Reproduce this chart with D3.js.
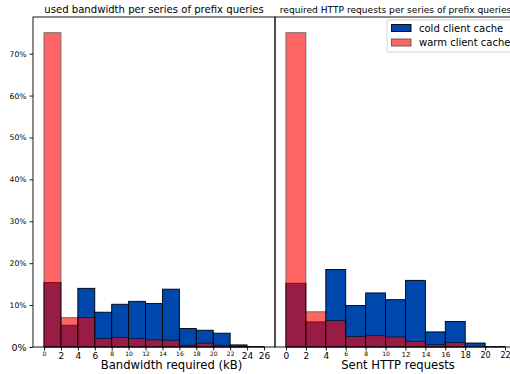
<!DOCTYPE html>
<html>
<head>
<meta charset="utf-8">
<script src="https://cdn.jsdelivr.net/npm/d3@7"></script>
<style>
  body { margin: 0; background: #fff; }
  text { font-family: "DejaVu Sans", sans-serif; fill: #000; }
</style>
</head>
<body>
<div id="viz"></div>
<script>
// bins are 2 wide, values are share of series (%)
var bwBins = [0, 2, 4, 6, 8, 10, 12, 14, 16, 18, 20, 22, 24];
var bwCold = [15.4, 5.2, 14.0, 8.3, 10.2, 10.9, 10.4, 13.8, 4.4, 4.0, 3.3, 0.5, 0.1];
var bwWarm = [75.0, 7.0, 7.0, 2.0, 2.3, 2.0, 1.7, 1.6, 0.4, 0.9, 0.4, 0.05, 0];

var reqBins = [0, 2, 4, 6, 8, 10, 12, 14, 16, 18, 20];
var reqCold = [15.2, 6.0, 18.5, 9.9, 12.9, 11.3, 15.9, 3.6, 6.1, 0.95, 0.1];
var reqWarm = [75.0, 8.4, 6.3, 2.5, 2.7, 2.4, 1.35, 0.6, 1.1, 0, 0];

var bwTicks = [0, 2, 4, 6, 8, 10, 12, 14, 16, 18, 20, 22, 24, 26];
var reqTicks = [0, 2, 4, 6, 8, 10, 12, 14, 16, 18, 20, 22];
var yTicks = [0, 10, 20, 30, 40, 50, 60, 70];

var W = 510, H = 374;
var plotTop = 17, plotBottom = 347;

var svg = d3.select('#viz').append('svg')
  .attr('width', W).attr('height', H);

var y = d3.scaleLinear().domain([0, 78.75]).range([plotBottom, plotTop]);

function panel(opt) {
  var x = d3.scaleLinear().domain(opt.xdom).range([opt.x0, opt.x1]);
  var g = svg.append('g');

  // cold first, warm on top with alpha
  g.selectAll('rect.cold').data(opt.cold).enter().append('rect')
    .attr('x', function(d, i){ return x(opt.bins[i]); })
    .attr('width', function(d, i){ return x(opt.bins[i] + 2) - x(opt.bins[i]); })
    .attr('y', function(d){ return y(d); })
    .attr('height', function(d){ return y(0) - y(d); })
    .attr('fill', '#0047ab')
    .attr('stroke', '#000')
    .attr('stroke-width', 0.9);

  g.selectAll('rect.warm').data(opt.warm).enter().append('rect')
    .attr('x', function(d, i){ return x(opt.bins[i]); })
    .attr('width', function(d, i){ return x(opt.bins[i] + 2) - x(opt.bins[i]); })
    .attr('y', function(d){ return y(d); })
    .attr('height', function(d){ return y(0) - y(d); })
    .attr('fill', '#ff0000')
    .attr('stroke', '#000')
    .attr('stroke-width', 0.9)
    .style('opacity', function(d){ return d > 0 ? 0.6 : 0; });

  // frame
  g.append('rect')
    .attr('x', opt.x0).attr('y', plotTop)
    .attr('width', opt.x1 - opt.x0).attr('height', plotBottom - plotTop)
    .attr('fill', 'none').attr('stroke', '#000').attr('stroke-width', 0.9);

  var xa = g.append('g').attr('transform', 'translate(0,' + plotBottom + ')')
    .call(d3.axisBottom(x).tickValues(opt.ticks).tickSize(3.5).tickFormat(d3.format('d')));
  xa.select('.domain').remove();
  xa.selectAll('line').attr('stroke', '#000').attr('stroke-width', 0.9);
  xa.selectAll('text')
    .attr('y', function(d, i){ return opt.tickDy[i]; })
    .attr('dy', '0.71em')
    .style('font-size', function(d, i){ return opt.tickSize[i] + 'px'; })
    .style('font-family', '"DejaVu Sans", sans-serif')
    .attr('fill', '#000');

  g.append('text')
    .attr('x', opt.labelX).attr('y', 368.5)
    .attr('text-anchor', 'middle')
    .style('font-size', '11.6px')
    .text(opt.label);

  g.append('text')
    .attr('x', (opt.x0 + opt.x1) / 2).attr('y', 13)
    .attr('text-anchor', 'middle')
    .style('font-size', opt.titleSize + 'px')
    .text(opt.title);

  return g;
}

panel({
  x0: 33, x1: 275, xdom: [-1.3, 27.3],
  bins: bwBins, cold: bwCold, warm: bwWarm, ticks: bwTicks,
  tickSize: [6, 9, 9, 9, 6, 6, 6, 6, 6, 6, 6, 6, 9, 9],
  tickDy: [5, 5.5, 5.5, 5.5, 4.5, 4.5, 4.5, 4.5, 4.5, 4.5, 4.5, 4.5, 5.5, 5.5],
  label: 'Bandwidth required (kB)', labelX: 171.5,
  title: 'used bandwidth per series of prefix queries', titleSize: 10.1
});

panel({
  x0: 275, x1: 516, xdom: [-1.1, 23.1],
  bins: reqBins, cold: reqCold, warm: reqWarm, ticks: reqTicks,
  tickSize: [9, 9, 9, 6, 6, 6, 7, 7, 7, 8, 8, 8],
  tickDy: [5.5, 5.5, 5.5, 4.5, 4.5, 4.5, 5, 5, 5, 5, 5, 5],
  label: 'Sent HTTP requests', labelX: 398,
  title: 'required HTTP requests per series of prefix queries', titleSize: 9.1
});

// y axis on the left panel only
var ya = svg.append('g').attr('transform', 'translate(33,0)')
  .call(d3.axisLeft(y).tickValues(yTicks).tickSize(3.5).tickFormat(function(d){ return d + '%'; }));
ya.select('.domain').remove();
ya.selectAll('line').attr('stroke', '#000').attr('stroke-width', 0.9);
ya.selectAll('text')
  .attr('x', -6.5)
  .style('font-size', function(d){ return d === 0 ? '9.5px' : '7.6px'; })
  .style('font-family', '"DejaVu Sans", sans-serif')
  .attr('fill', '#000');

// legend
var leg = svg.append('g');
leg.append('rect')
  .attr('x', 387).attr('y', 20).attr('width', 130).attr('height', 32)
  .attr('rx', 2).attr('fill', '#fff').attr('fill-opacity', 0.8)
  .attr('stroke', '#ccc').attr('stroke-width', 0.8);
var legItems = ['cold client cache', 'warm client cache'];
var legFill = ['#0047ab', '#ff6666'];
legItems.forEach(function(t, i){
  leg.append('rect')
    .attr('x', 391.5).attr('y', 24.5 + i * 14.5).attr('width', 19.5).attr('height', 7)
    .attr('fill', legFill[i]).attr('stroke', i ? '#555' : '#000').attr('stroke-width', 0.9);
  leg.append('text')
    .attr('x', 419).attr('y', 28 + i * 14.5).attr('dy', '0.35em')
    .style('font-size', '10px')
    .text(t);
});
</script>
</body>
</html>
